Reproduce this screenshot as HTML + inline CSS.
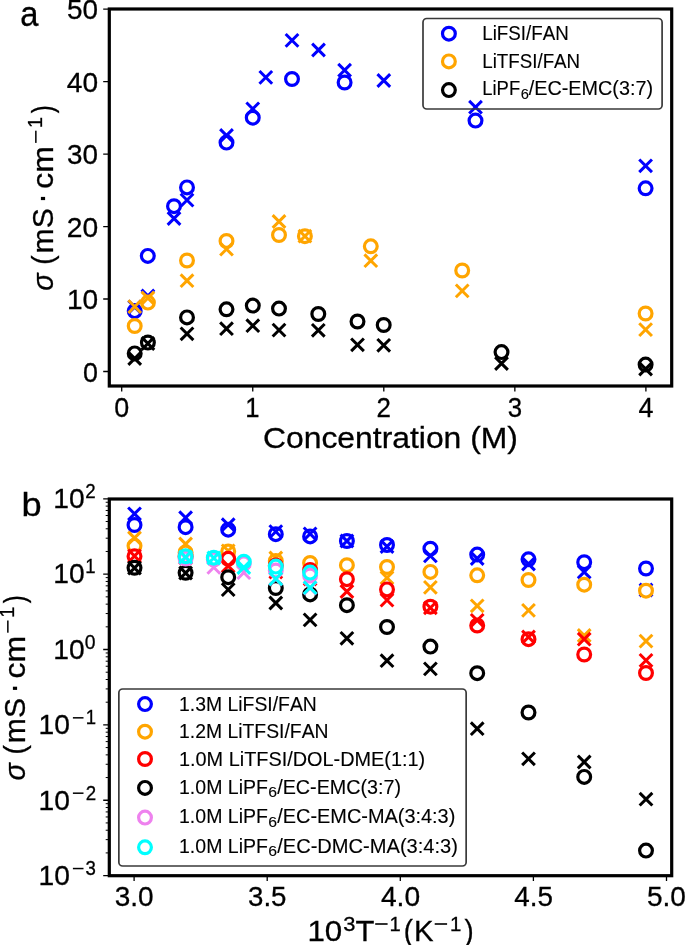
<!DOCTYPE html>
<html><head><meta charset="utf-8"><style>
html,body{margin:0;padding:0;background:#fff;}
svg{display:block;will-change:transform;}
text{font-family:"Liberation Sans", sans-serif;font-kerning:none;stroke:#000;stroke-width:0.3px;}
.lg text{stroke-width:0.12px;}
</style></head><body>
<svg width="685" height="945" viewBox="0 0 685 945">
<rect x="0" y="0" width="685" height="945" fill="#fff"/>
<g fill="none" stroke-width="3.2">
<circle cx="134.70" cy="311.10" r="6.4" stroke="#0000ff" fill="#fff"/>
<circle cx="147.80" cy="255.90" r="6.4" stroke="#0000ff" fill="#fff"/>
<circle cx="174.00" cy="206.20" r="6.4" stroke="#0000ff" fill="#fff"/>
<circle cx="187.00" cy="187.40" r="6.4" stroke="#0000ff" fill="#fff"/>
<circle cx="226.50" cy="142.60" r="6.4" stroke="#0000ff" fill="#fff"/>
<circle cx="252.75" cy="117.70" r="6.4" stroke="#0000ff" fill="#fff"/>
<circle cx="292.00" cy="79.00" r="6.4" stroke="#0000ff" fill="#fff"/>
<circle cx="344.60" cy="82.50" r="6.4" stroke="#0000ff" fill="#fff"/>
<circle cx="475.50" cy="120.60" r="6.4" stroke="#0000ff" fill="#fff"/>
<circle cx="645.60" cy="188.30" r="6.4" stroke="#0000ff" fill="#fff"/>
<g stroke-width="3.0">
<path d="M128.35 300.65L141.05 313.35M128.35 313.35L141.05 300.65" stroke="#0000ff"/>
<path d="M141.55 289.65L154.25 302.35M141.55 302.35L154.25 289.65" stroke="#0000ff"/>
<path d="M167.65 212.15L180.35 224.85M167.65 224.85L180.35 212.15" stroke="#0000ff"/>
<path d="M180.65 193.75L193.35 206.45M180.65 206.45L193.35 193.75" stroke="#0000ff"/>
<path d="M220.15 129.15L232.85 141.85M220.15 141.85L232.85 129.15" stroke="#0000ff"/>
<path d="M246.40 102.55L259.10 115.25M246.40 115.25L259.10 102.55" stroke="#0000ff"/>
<path d="M259.45 71.05L272.15 83.75M259.45 83.75L272.15 71.05" stroke="#0000ff"/>
<path d="M285.65 34.05L298.35 46.75M285.65 46.75L298.35 34.05" stroke="#0000ff"/>
<path d="M312.15 43.65L324.85 56.35M312.15 56.35L324.85 43.65" stroke="#0000ff"/>
<path d="M338.25 63.85L350.95 76.55M338.25 76.55L350.95 63.85" stroke="#0000ff"/>
<path d="M377.45 74.15L390.15 86.85M377.45 86.85L390.15 74.15" stroke="#0000ff"/>
<path d="M469.15 100.85L481.85 113.55M469.15 113.55L481.85 100.85" stroke="#0000ff"/>
<path d="M639.25 159.45L651.95 172.15M639.25 172.15L651.95 159.45" stroke="#0000ff"/>
</g>
<circle cx="134.70" cy="326.00" r="6.4" stroke="#ffa500" fill="#fff"/>
<circle cx="147.90" cy="302.60" r="6.4" stroke="#ffa500" fill="#fff"/>
<circle cx="187.00" cy="260.50" r="6.4" stroke="#ffa500" fill="#fff"/>
<circle cx="226.50" cy="241.00" r="6.4" stroke="#ffa500" fill="#fff"/>
<circle cx="279.00" cy="235.00" r="6.4" stroke="#ffa500" fill="#fff"/>
<circle cx="304.90" cy="236.20" r="6.4" stroke="#ffa500" fill="#fff"/>
<circle cx="370.80" cy="246.30" r="6.4" stroke="#ffa500" fill="#fff"/>
<circle cx="462.20" cy="270.50" r="6.4" stroke="#ffa500" fill="#fff"/>
<circle cx="645.60" cy="313.50" r="6.4" stroke="#ffa500" fill="#fff"/>
<g stroke-width="3.0">
<path d="M128.35 300.25L141.05 312.95M128.35 312.95L141.05 300.25" stroke="#ffa500"/>
<path d="M141.55 291.65L154.25 304.35M141.55 304.35L154.25 291.65" stroke="#ffa500"/>
<path d="M180.65 274.35L193.35 287.05M180.65 287.05L193.35 274.35" stroke="#ffa500"/>
<path d="M220.15 242.75L232.85 255.45M220.15 255.45L232.85 242.75" stroke="#ffa500"/>
<path d="M272.65 215.15L285.35 227.85M272.65 227.85L285.35 215.15" stroke="#ffa500"/>
<path d="M298.55 229.85L311.25 242.55M298.55 242.55L311.25 229.85" stroke="#ffa500"/>
<path d="M364.45 254.35L377.15 267.05M364.45 267.05L377.15 254.35" stroke="#ffa500"/>
<path d="M455.85 284.55L468.55 297.25M455.85 297.25L468.55 284.55" stroke="#ffa500"/>
<path d="M639.25 323.25L651.95 335.95M639.25 335.95L651.95 323.25" stroke="#ffa500"/>
</g>
<circle cx="134.70" cy="353.40" r="6.4" stroke="#000000" fill="#fff"/>
<circle cx="147.90" cy="342.60" r="6.4" stroke="#000000" fill="#fff"/>
<circle cx="187.00" cy="317.40" r="6.4" stroke="#000000" fill="#fff"/>
<circle cx="226.50" cy="309.30" r="6.4" stroke="#000000" fill="#fff"/>
<circle cx="252.80" cy="305.60" r="6.4" stroke="#000000" fill="#fff"/>
<circle cx="279.00" cy="308.60" r="6.4" stroke="#000000" fill="#fff"/>
<circle cx="318.30" cy="314.00" r="6.4" stroke="#000000" fill="#fff"/>
<circle cx="357.50" cy="321.50" r="6.4" stroke="#000000" fill="#fff"/>
<circle cx="383.70" cy="325.00" r="6.4" stroke="#000000" fill="#fff"/>
<circle cx="501.50" cy="352.10" r="6.4" stroke="#000000" fill="#fff"/>
<circle cx="645.60" cy="364.60" r="6.4" stroke="#000000" fill="#fff"/>
<g stroke-width="3.0">
<path d="M128.35 352.15L141.05 364.85M128.35 364.85L141.05 352.15" stroke="#000000"/>
<path d="M141.55 337.15L154.25 349.85M141.55 349.85L154.25 337.15" stroke="#000000"/>
<path d="M180.65 327.45L193.35 340.15M180.65 340.15L193.35 327.45" stroke="#000000"/>
<path d="M220.15 322.35L232.85 335.05M220.15 335.05L232.85 322.35" stroke="#000000"/>
<path d="M246.45 319.35L259.15 332.05M246.45 332.05L259.15 319.35" stroke="#000000"/>
<path d="M272.65 323.75L285.35 336.45M272.65 336.45L285.35 323.75" stroke="#000000"/>
<path d="M311.95 323.95L324.65 336.65M311.95 336.65L324.65 323.95" stroke="#000000"/>
<path d="M351.15 338.45L363.85 351.15M351.15 351.15L363.85 338.45" stroke="#000000"/>
<path d="M377.35 338.95L390.05 351.65M377.35 351.65L390.05 338.95" stroke="#000000"/>
<path d="M495.15 357.15L507.85 369.85M495.15 369.85L507.85 357.15" stroke="#000000"/>
<path d="M639.25 362.65L651.95 375.35M639.25 375.35L651.95 362.65" stroke="#000000"/>
</g>
</g>
<rect x="109.3" y="9.0" width="562.40" height="377.00" fill="none" stroke="#000" stroke-width="3.2"/>
<path d="M103.20 371.50H109.30M103.20 299.02H109.30M103.20 226.54H109.30M103.20 154.06H109.30M103.20 81.58H109.30M103.20 9.10H109.30M121.70 386.00V391.60M252.75 386.00V391.60M383.80 386.00V391.60M514.85 386.00V391.60M645.90 386.00V391.60" stroke="#000" stroke-width="1.3" fill="none"/>
<g fill="#000">
<text x="83.09" y="381.50" font-size="27.87" textLength="14.96" lengthAdjust="spacingAndGlyphs">0</text>
<text x="66.90" y="309.02" font-size="27.87" textLength="31.20" lengthAdjust="spacingAndGlyphs">10</text>
<text x="66.68" y="236.54" font-size="27.87" textLength="31.42" lengthAdjust="spacingAndGlyphs">20</text>
<text x="67.12" y="164.06" font-size="27.87" textLength="30.97" lengthAdjust="spacingAndGlyphs">30</text>
<text x="66.83" y="91.58" font-size="27.87" textLength="31.27" lengthAdjust="spacingAndGlyphs">40</text>
<text x="67.08" y="19.10" font-size="27.87" textLength="31.00" lengthAdjust="spacingAndGlyphs">50</text>
<text x="114.22" y="416.70" font-size="27.87" textLength="14.96" lengthAdjust="spacingAndGlyphs">0</text>
<text x="245.26" y="416.70" font-size="27.87" textLength="14.28" lengthAdjust="spacingAndGlyphs">1</text>
<text x="376.59" y="416.70" font-size="27.87" textLength="14.42" lengthAdjust="spacingAndGlyphs">2</text>
<text x="507.74" y="416.70" font-size="27.87" textLength="14.36" lengthAdjust="spacingAndGlyphs">3</text>
<text x="638.51" y="416.70" font-size="27.87" textLength="14.96" lengthAdjust="spacingAndGlyphs">4</text>
<text x="262.98" y="448.30" font-size="29.88" textLength="254.99" lengthAdjust="spacingAndGlyphs">Concentration (M)</text>
<g transform="translate(53.1 289.8) rotate(-90)"><text x="-0.95" y="0.00" font-size="29.88" textLength="17.26" lengthAdjust="spacingAndGlyphs" font-style="italic">σ</text><text x="25.07" y="0.00" font-size="29.88" textLength="9.29" lengthAdjust="spacingAndGlyphs">(</text><text x="36.40" y="0.00" font-size="29.88" textLength="45.18" lengthAdjust="spacingAndGlyphs">mS</text><rect x="89.7" y="-12.2" width="3.2" height="4.2"/><text x="101.14" y="0.00" font-size="29.88" textLength="42.67" lengthAdjust="spacingAndGlyphs">cm</text><rect x="146.9" y="-18.0" width="12.2" height="1.5"/><text x="161.80" y="-11.20" font-size="20.92" textLength="10.96" lengthAdjust="spacingAndGlyphs">1</text><text x="176.46" y="0.00" font-size="29.88" textLength="7.91" lengthAdjust="spacingAndGlyphs">)</text></g>
<text x="20.31" y="25.50" font-size="34.70" textLength="18.19" lengthAdjust="spacingAndGlyphs">a</text>
</g>
<rect x="423.0" y="18.5" width="239.1" height="90.5" rx="3.8" fill="none" stroke="#3a3a3a" stroke-width="1.7"/>
<g fill="none" stroke-width="3.2">
<circle cx="448.90" cy="33.70" r="6.4" stroke="#0000ff"/>
<circle cx="448.90" cy="61.40" r="6.4" stroke="#ffa500"/>
<circle cx="448.90" cy="90.10" r="6.4" stroke="#000000"/>
</g>
<g fill="#000" class="lg">
<text x="482.26" y="40.20" font-size="19.71" textLength="86.54" lengthAdjust="spacingAndGlyphs">LiFSI/FAN</text>
<text x="482.26" y="67.90" font-size="19.71" textLength="97.90" lengthAdjust="spacingAndGlyphs">LiTFSI/FAN</text>
<text x="482.29" y="95.30" font-size="19.71" textLength="37.85" lengthAdjust="spacingAndGlyphs">LiPF</text>
<text x="520.85" y="98.60" font-size="14.40" textLength="8.20" lengthAdjust="spacingAndGlyphs">6</text>
<text x="528.80" y="95.30" font-size="19.71" textLength="124.23" lengthAdjust="spacingAndGlyphs">/EC-EMC(3:7)</text>
</g>
<g fill="none" stroke-width="3.2">
<circle cx="134.50" cy="525.00" r="6.4" stroke="#0000ff" fill="#fff"/>
<circle cx="185.60" cy="527.20" r="6.4" stroke="#0000ff" fill="#fff"/>
<circle cx="228.20" cy="529.70" r="6.4" stroke="#0000ff" fill="#fff"/>
<circle cx="275.80" cy="534.20" r="6.4" stroke="#0000ff" fill="#fff"/>
<circle cx="310.10" cy="536.40" r="6.4" stroke="#0000ff" fill="#fff"/>
<circle cx="346.90" cy="541.00" r="6.4" stroke="#0000ff" fill="#fff"/>
<circle cx="387.00" cy="545.00" r="6.4" stroke="#0000ff" fill="#fff"/>
<circle cx="430.40" cy="548.70" r="6.4" stroke="#0000ff" fill="#fff"/>
<circle cx="477.20" cy="554.60" r="6.4" stroke="#0000ff" fill="#fff"/>
<circle cx="528.50" cy="559.30" r="6.4" stroke="#0000ff" fill="#fff"/>
<circle cx="584.20" cy="562.20" r="6.4" stroke="#0000ff" fill="#fff"/>
<circle cx="646.00" cy="568.50" r="6.4" stroke="#0000ff" fill="#fff"/>
<g stroke-width="3.0">
<path d="M128.15 507.45L140.85 520.15M128.15 520.15L140.85 507.45" stroke="#0000ff"/>
<path d="M179.25 511.35L191.95 524.05M179.25 524.05L191.95 511.35" stroke="#0000ff"/>
<path d="M221.85 518.35L234.55 531.05M221.85 531.05L234.55 518.35" stroke="#0000ff"/>
<path d="M269.45 525.25L282.15 537.95M269.45 537.95L282.15 525.25" stroke="#0000ff"/>
<path d="M303.75 527.45L316.45 540.15M303.75 540.15L316.45 527.45" stroke="#0000ff"/>
<path d="M340.55 534.65L353.25 547.35M340.55 547.35L353.25 534.65" stroke="#0000ff"/>
<path d="M380.65 540.15L393.35 552.85M380.65 552.85L393.35 540.15" stroke="#0000ff"/>
<path d="M424.05 549.55L436.75 562.25M424.05 562.25L436.75 549.55" stroke="#0000ff"/>
<path d="M470.85 552.15L483.55 564.85M470.85 564.85L483.55 552.15" stroke="#0000ff"/>
<path d="M522.15 557.65L534.85 570.35M522.15 570.35L534.85 557.65" stroke="#0000ff"/>
<path d="M577.85 565.65L590.55 578.35M577.85 578.35L590.55 565.65" stroke="#0000ff"/>
<path d="M639.65 583.65L652.35 596.35M639.65 596.35L652.35 583.65" stroke="#0000ff"/>
</g>
<circle cx="134.50" cy="545.80" r="6.4" stroke="#ffa500" fill="#fff"/>
<circle cx="185.60" cy="552.50" r="6.4" stroke="#ffa500" fill="#fff"/>
<circle cx="228.20" cy="551.50" r="6.4" stroke="#ffa500" fill="#fff"/>
<circle cx="275.80" cy="561.00" r="6.4" stroke="#ffa500" fill="#fff"/>
<circle cx="310.10" cy="563.00" r="6.4" stroke="#ffa500" fill="#fff"/>
<circle cx="346.90" cy="565.20" r="6.4" stroke="#ffa500" fill="#fff"/>
<circle cx="387.00" cy="567.00" r="6.4" stroke="#ffa500" fill="#fff"/>
<circle cx="430.40" cy="571.90" r="6.4" stroke="#ffa500" fill="#fff"/>
<circle cx="477.20" cy="575.30" r="6.4" stroke="#ffa500" fill="#fff"/>
<circle cx="528.50" cy="580.00" r="6.4" stroke="#ffa500" fill="#fff"/>
<circle cx="584.20" cy="584.70" r="6.4" stroke="#ffa500" fill="#fff"/>
<circle cx="646.00" cy="590.70" r="6.4" stroke="#ffa500" fill="#fff"/>
<g stroke-width="3.0">
<path d="M128.15 531.65L140.85 544.35M128.15 544.35L140.85 531.65" stroke="#ffa500"/>
<path d="M179.25 537.65L191.95 550.35M179.25 550.35L191.95 537.65" stroke="#ffa500"/>
<path d="M221.85 544.45L234.55 557.15M221.85 557.15L234.55 544.45" stroke="#ffa500"/>
<path d="M269.45 551.65L282.15 564.35M269.45 564.35L282.15 551.65" stroke="#ffa500"/>
<path d="M380.65 571.45L393.35 584.15M380.65 584.15L393.35 571.45" stroke="#ffa500"/>
<path d="M424.05 581.05L436.75 593.75M424.05 593.75L436.75 581.05" stroke="#ffa500"/>
<path d="M470.85 599.45L483.55 612.15M470.85 612.15L483.55 599.45" stroke="#ffa500"/>
<path d="M522.15 604.05L534.85 616.75M522.15 616.75L534.85 604.05" stroke="#ffa500"/>
<path d="M577.85 629.15L590.55 641.85M577.85 641.85L590.55 629.15" stroke="#ffa500"/>
<path d="M639.65 634.75L652.35 647.45M639.65 647.45L652.35 634.75" stroke="#ffa500"/>
</g>
<circle cx="134.50" cy="556.30" r="6.4" stroke="#ff0000" fill="#fff"/>
<circle cx="185.60" cy="556.70" r="6.4" stroke="#ff0000" fill="#fff"/>
<circle cx="228.20" cy="558.80" r="6.4" stroke="#ff0000" fill="#fff"/>
<circle cx="275.80" cy="565.40" r="6.4" stroke="#ff0000" fill="#fff"/>
<circle cx="310.10" cy="570.00" r="6.4" stroke="#ff0000" fill="#fff"/>
<circle cx="346.90" cy="579.20" r="6.4" stroke="#ff0000" fill="#fff"/>
<circle cx="387.00" cy="589.40" r="6.4" stroke="#ff0000" fill="#fff"/>
<circle cx="430.40" cy="606.70" r="6.4" stroke="#ff0000" fill="#fff"/>
<circle cx="477.20" cy="625.50" r="6.4" stroke="#ff0000" fill="#fff"/>
<circle cx="528.50" cy="639.20" r="6.4" stroke="#ff0000" fill="#fff"/>
<circle cx="584.20" cy="654.50" r="6.4" stroke="#ff0000" fill="#fff"/>
<circle cx="646.00" cy="673.00" r="6.4" stroke="#ff0000" fill="#fff"/>
<g stroke-width="3.0">
<path d="M128.15 549.65L140.85 562.35M128.15 562.35L140.85 549.65" stroke="#ff0000"/>
<path d="M179.25 551.65L191.95 564.35M179.25 564.35L191.95 551.65" stroke="#ff0000"/>
<path d="M221.85 559.65L234.55 572.35M221.85 572.35L234.55 559.65" stroke="#ff0000"/>
<path d="M269.45 565.65L282.15 578.35M269.45 578.35L282.15 565.65" stroke="#ff0000"/>
<path d="M303.75 572.65L316.45 585.35M303.75 585.35L316.45 572.65" stroke="#ff0000"/>
<path d="M340.55 585.15L353.25 597.85M340.55 597.85L353.25 585.15" stroke="#ff0000"/>
<path d="M380.65 593.75L393.35 606.45M380.65 606.45L393.35 593.75" stroke="#ff0000"/>
<path d="M424.05 601.45L436.75 614.15M424.05 614.15L436.75 601.45" stroke="#ff0000"/>
<path d="M470.85 613.95L483.55 626.65M470.85 626.65L483.55 613.95" stroke="#ff0000"/>
<path d="M522.15 630.65L534.85 643.35M522.15 643.35L534.85 630.65" stroke="#ff0000"/>
<path d="M577.85 632.85L590.55 645.55M577.85 645.55L590.55 632.85" stroke="#ff0000"/>
<path d="M639.65 654.05L652.35 666.75M639.65 666.75L652.35 654.05" stroke="#ff0000"/>
</g>
<circle cx="134.50" cy="567.80" r="6.4" stroke="#000000" fill="#fff"/>
<circle cx="185.60" cy="572.80" r="6.4" stroke="#000000" fill="#fff"/>
<circle cx="228.20" cy="577.20" r="6.4" stroke="#000000" fill="#fff"/>
<circle cx="275.80" cy="588.00" r="6.4" stroke="#000000" fill="#fff"/>
<circle cx="310.10" cy="594.40" r="6.4" stroke="#000000" fill="#fff"/>
<circle cx="346.90" cy="605.20" r="6.4" stroke="#000000" fill="#fff"/>
<circle cx="387.00" cy="627.00" r="6.4" stroke="#000000" fill="#fff"/>
<circle cx="430.40" cy="646.60" r="6.4" stroke="#000000" fill="#fff"/>
<circle cx="477.20" cy="673.20" r="6.4" stroke="#000000" fill="#fff"/>
<circle cx="528.50" cy="712.50" r="6.4" stroke="#000000" fill="#fff"/>
<circle cx="584.20" cy="776.90" r="6.4" stroke="#000000" fill="#fff"/>
<circle cx="646.00" cy="850.60" r="6.4" stroke="#000000" fill="#fff"/>
<g stroke-width="3.0">
<path d="M128.15 561.65L140.85 574.35M128.15 574.35L140.85 561.65" stroke="#000000"/>
<path d="M179.25 566.65L191.95 579.35M179.25 579.35L191.95 566.65" stroke="#000000"/>
<path d="M221.85 583.25L234.55 595.95M221.85 595.95L234.55 583.25" stroke="#000000"/>
<path d="M269.45 596.65L282.15 609.35M269.45 609.35L282.15 596.65" stroke="#000000"/>
<path d="M303.75 613.55L316.45 626.25M303.75 626.25L316.45 613.55" stroke="#000000"/>
<path d="M340.55 631.95L353.25 644.65M340.55 644.65L353.25 631.95" stroke="#000000"/>
<path d="M380.65 654.35L393.35 667.05M380.65 667.05L393.35 654.35" stroke="#000000"/>
<path d="M424.05 662.55L436.75 675.25M424.05 675.25L436.75 662.55" stroke="#000000"/>
<path d="M470.85 722.35L483.55 735.05M470.85 735.05L483.55 722.35" stroke="#000000"/>
<path d="M522.15 752.45L534.85 765.15M522.15 765.15L534.85 752.45" stroke="#000000"/>
<path d="M577.85 755.65L590.55 768.35M577.85 768.35L590.55 755.65" stroke="#000000"/>
<path d="M639.65 792.85L652.35 805.55M639.65 805.55L652.35 792.85" stroke="#000000"/>
</g>
<circle cx="185.60" cy="558.50" r="6.4" stroke="#ee82ee" fill="#fff"/>
<circle cx="213.80" cy="559.50" r="6.4" stroke="#ee82ee" fill="#fff"/>
<circle cx="243.80" cy="563.40" r="6.4" stroke="#ee82ee" fill="#fff"/>
<circle cx="275.80" cy="570.50" r="6.4" stroke="#ee82ee" fill="#fff"/>
<circle cx="310.10" cy="575.50" r="6.4" stroke="#ee82ee" fill="#fff"/>
<g stroke-width="3.0">
<path d="M179.25 551.65L191.95 564.35M179.25 564.35L191.95 551.65" stroke="#ee82ee"/>
<path d="M207.45 561.05L220.15 573.75M207.45 573.75L220.15 561.05" stroke="#ee82ee"/>
<path d="M237.45 566.25L250.15 578.95M237.45 578.95L250.15 566.25" stroke="#ee82ee"/>
<path d="M269.45 572.65L282.15 585.35M269.45 585.35L282.15 572.65" stroke="#ee82ee"/>
<path d="M303.75 581.65L316.45 594.35M303.75 594.35L316.45 581.65" stroke="#ee82ee"/>
</g>
<circle cx="185.60" cy="556.30" r="6.4" stroke="#00ffff"/>
<circle cx="213.80" cy="557.70" r="6.4" stroke="#00ffff"/>
<circle cx="243.80" cy="561.70" r="6.4" stroke="#00ffff"/>
<circle cx="275.80" cy="566.60" r="6.4" stroke="#00ffff"/>
<circle cx="310.10" cy="572.60" r="6.4" stroke="#00ffff"/>
<g stroke-width="3.0">
<path d="M179.25 550.65L191.95 563.35M179.25 563.35L191.95 550.65" stroke="#00ffff"/>
<path d="M207.45 551.65L220.15 564.35M207.45 564.35L220.15 551.65" stroke="#00ffff"/>
<path d="M237.45 561.15L250.15 573.85M237.45 573.85L250.15 561.15" stroke="#00ffff"/>
<path d="M269.45 572.55L282.15 585.25M269.45 585.25L282.15 572.55" stroke="#00ffff"/>
<path d="M303.75 581.35L316.45 594.05M303.75 594.05L316.45 581.35" stroke="#00ffff"/>
</g>
</g>
<rect x="109.3" y="499.0" width="562.40" height="376.70" fill="none" stroke="#000" stroke-width="3.2"/>
<path d="M103.20 875.60H109.30M103.20 800.24H109.30M103.20 724.88H109.30M103.20 649.52H109.30M103.20 574.16H109.30M103.20 498.80H109.30M134.10 875.70V880.90M267.20 875.70V880.90M400.30 875.70V880.90M533.40 875.70V880.90M666.50 875.70V880.90" stroke="#000" stroke-width="1.3" fill="none"/>
<path d="M105.70 852.91H109.30M105.70 839.64H109.30M105.70 830.23H109.30M105.70 822.93H109.30M105.70 816.96H109.30M105.70 811.91H109.30M105.70 807.54H109.30M105.70 803.69H109.30M105.70 777.55H109.30M105.70 764.28H109.30M105.70 754.87H109.30M105.70 747.57H109.30M105.70 741.60H109.30M105.70 736.55H109.30M105.70 732.18H109.30M105.70 728.33H109.30M105.70 702.19H109.30M105.70 688.92H109.30M105.70 679.51H109.30M105.70 672.21H109.30M105.70 666.24H109.30M105.70 661.19H109.30M105.70 656.82H109.30M105.70 652.97H109.30M105.70 626.83H109.30M105.70 613.56H109.30M105.70 604.15H109.30M105.70 596.85H109.30M105.70 590.88H109.30M105.70 585.83H109.30M105.70 581.46H109.30M105.70 577.61H109.30M105.70 551.47H109.30M105.70 538.20H109.30M105.70 528.79H109.30M105.70 521.49H109.30M105.70 515.52H109.30M105.70 510.47H109.30M105.70 506.10H109.30M105.70 502.25H109.30" stroke="#000" stroke-width="1.0" fill="none"/>
<g fill="#000">
<text x="38.55" y="884.90" font-size="27.87" textLength="31.36" lengthAdjust="spacingAndGlyphs">10</text>
<rect x="72.9" y="867.80" width="10.6" height="1.5"/>
<text x="85.55" y="874.90" font-size="19.51" textLength="10.37" lengthAdjust="spacingAndGlyphs">3</text>
<text x="38.55" y="809.54" font-size="27.87" textLength="31.36" lengthAdjust="spacingAndGlyphs">10</text>
<rect x="72.9" y="792.44" width="10.6" height="1.5"/>
<text x="85.64" y="799.54" font-size="19.51" textLength="10.40" lengthAdjust="spacingAndGlyphs">2</text>
<text x="38.55" y="734.18" font-size="27.87" textLength="31.36" lengthAdjust="spacingAndGlyphs">10</text>
<rect x="72.9" y="717.08" width="10.6" height="1.5"/>
<text x="85.70" y="724.18" font-size="19.51" textLength="10.31" lengthAdjust="spacingAndGlyphs">1</text>
<text x="53.35" y="658.82" font-size="27.87" textLength="31.36" lengthAdjust="spacingAndGlyphs">10</text>
<text x="84.67" y="648.82" font-size="19.51" textLength="10.79" lengthAdjust="spacingAndGlyphs">0</text>
<text x="53.35" y="583.46" font-size="27.87" textLength="31.36" lengthAdjust="spacingAndGlyphs">10</text>
<text x="85.30" y="573.46" font-size="19.51" textLength="10.31" lengthAdjust="spacingAndGlyphs">1</text>
<text x="53.35" y="508.10" font-size="27.87" textLength="31.36" lengthAdjust="spacingAndGlyphs">10</text>
<text x="85.24" y="498.10" font-size="19.51" textLength="10.40" lengthAdjust="spacingAndGlyphs">2</text>
<text x="114.66" y="905.80" font-size="27.87" textLength="38.90" lengthAdjust="spacingAndGlyphs">3.0</text>
<text x="248.04" y="905.80" font-size="27.87" textLength="38.42" lengthAdjust="spacingAndGlyphs">3.5</text>
<text x="380.93" y="905.80" font-size="27.87" textLength="39.19" lengthAdjust="spacingAndGlyphs">4.0</text>
<text x="514.31" y="905.80" font-size="27.87" textLength="38.71" lengthAdjust="spacingAndGlyphs">4.5</text>
<text x="647.02" y="905.80" font-size="27.87" textLength="38.93" lengthAdjust="spacingAndGlyphs">5.0</text>
<text x="307.42" y="941.10" font-size="29.88" textLength="34.81" lengthAdjust="spacingAndGlyphs">10</text>
<text x="343.16" y="930.80" font-size="20.92" textLength="12.20" lengthAdjust="spacingAndGlyphs">3</text>
<text x="355.50" y="941.10" font-size="29.88" textLength="18.91" lengthAdjust="spacingAndGlyphs">T</text>
<rect x="375.2" y="923.2" width="12.4" height="1.6"/>
<text x="389.46" y="930.80" font-size="20.92" textLength="11.22" lengthAdjust="spacingAndGlyphs">1</text>
<text x="403.79" y="941.10" font-size="29.88" textLength="9.17" lengthAdjust="spacingAndGlyphs">(</text>
<text x="414.10" y="941.10" font-size="29.88" textLength="19.53" lengthAdjust="spacingAndGlyphs">K</text>
<rect x="434.7" y="923.2" width="12.4" height="1.6"/>
<text x="449.95" y="930.80" font-size="20.92" textLength="11.35" lengthAdjust="spacingAndGlyphs">1</text>
<text x="464.54" y="941.10" font-size="29.88" textLength="9.17" lengthAdjust="spacingAndGlyphs">)</text>
<g transform="translate(25.1 779.6) rotate(-90)"><text x="-0.95" y="0.00" font-size="29.88" textLength="17.26" lengthAdjust="spacingAndGlyphs" font-style="italic">σ</text><text x="25.07" y="0.00" font-size="29.88" textLength="9.29" lengthAdjust="spacingAndGlyphs">(</text><text x="36.40" y="0.00" font-size="29.88" textLength="45.18" lengthAdjust="spacingAndGlyphs">mS</text><rect x="89.7" y="-12.2" width="3.2" height="4.2"/><text x="101.14" y="0.00" font-size="29.88" textLength="42.67" lengthAdjust="spacingAndGlyphs">cm</text><rect x="146.9" y="-18.0" width="12.2" height="1.5"/><text x="161.80" y="-11.20" font-size="20.92" textLength="10.96" lengthAdjust="spacingAndGlyphs">1</text><text x="176.46" y="0.00" font-size="29.88" textLength="7.91" lengthAdjust="spacingAndGlyphs">)</text></g>
<text x="21.46" y="515.80" font-size="33.90" textLength="20.16" lengthAdjust="spacingAndGlyphs">b</text>
</g>
<rect x="118.85" y="689.0" width="347.3" height="177.0" rx="3.8" fill="none" stroke="#3a3a3a" stroke-width="1.7"/>
<g fill="none" stroke-width="3.2">
<circle cx="145.00" cy="704.10" r="6.4" stroke="#0000ff"/>
<circle cx="145.00" cy="731.70" r="6.4" stroke="#ffa500"/>
<circle cx="145.00" cy="759.00" r="6.4" stroke="#ff0000"/>
<circle cx="145.00" cy="787.90" r="6.4" stroke="#000000"/>
<circle cx="145.00" cy="817.60" r="6.4" stroke="#ee82ee"/>
<circle cx="145.00" cy="847.30" r="6.4" stroke="#00ffff"/>
</g>
<g fill="#000" class="lg">
<text x="179.02" y="710.90" font-size="19.71" textLength="137.86" lengthAdjust="spacingAndGlyphs">1.3M LiFSI/FAN</text>
<text x="179.03" y="738.20" font-size="19.71" textLength="149.55" lengthAdjust="spacingAndGlyphs">1.2M LiTFSI/FAN</text>
<text x="178.99" y="765.90" font-size="19.71" textLength="246.25" lengthAdjust="spacingAndGlyphs">1.0M LiTFSI/DOL-DME(1:1)</text>
<text x="179.01" y="793.50" font-size="19.71" textLength="88.97" lengthAdjust="spacingAndGlyphs">1.0M LiPF</text>
<text x="268.20" y="796.70" font-size="14.40" textLength="8.80" lengthAdjust="spacingAndGlyphs">6</text>
<text x="277.20" y="793.50" font-size="19.71" textLength="123.92" lengthAdjust="spacingAndGlyphs">/EC-EMC(3:7)</text>
<text x="179.01" y="823.30" font-size="19.71" textLength="88.97" lengthAdjust="spacingAndGlyphs">1.0M LiPF</text>
<text x="268.20" y="826.50" font-size="14.40" textLength="8.80" lengthAdjust="spacingAndGlyphs">6</text>
<text x="277.20" y="823.30" font-size="19.71" textLength="178.13" lengthAdjust="spacingAndGlyphs">/EC-EMC-MA(3:4:3)</text>
<text x="179.01" y="853.00" font-size="19.71" textLength="88.97" lengthAdjust="spacingAndGlyphs">1.0M LiPF</text>
<text x="268.20" y="856.20" font-size="14.40" textLength="8.80" lengthAdjust="spacingAndGlyphs">6</text>
<text x="277.20" y="853.00" font-size="19.71" textLength="180.75" lengthAdjust="spacingAndGlyphs">/EC-DMC-MA(3:4:3)</text>
</g>
</svg>
</body></html>
